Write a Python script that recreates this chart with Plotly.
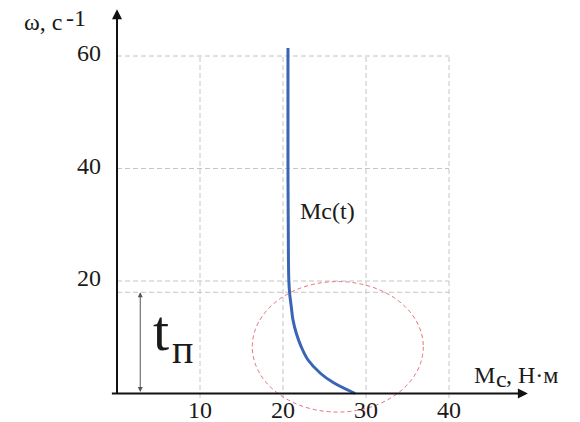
import plotly.graph_objects as go

# Curve Mc(t): omega vs Mc
mc_vals = [20.6, 20.6, 20.65, 20.7, 20.8, 21.0, 21.2, 21.6, 22.2, 23.0, 24.5, 26.1, 28.7]
omega_vals = [61.4, 40.0, 25.0, 20.2, 17.8, 15.4, 13.1, 10.7, 8.3, 6.0, 3.6, 1.9, 0.0]

x_ticks = [10, 20, 30, 40]
y_ticks = [20, 40, 60]
y_extra_grid = 18.0
t_arrow_x = 2.8

ellipse_cx, ellipse_cy = 26.6, 8.3
ellipse_rx, ellipse_ry = 10.3, 11.6

FONT = "Liberation Serif, 'Times New Roman', Times, 'DejaVu Serif', serif"
TXT = "#1a1a1a"
grid_col = "#C4C4C4"

W, H = 580, 422
x0_px, px_per_unit_x = 117.0, 8.3
y0_px, px_per_unit_y = 393.5, 5.625

fig = go.Figure()
fig.add_trace(go.Scatter(x=mc_vals, y=omega_vals, mode="lines",
                         line=dict(color="#3A64B4", width=3, shape="spline", smoothing=1.0),
                         showlegend=False, hoverinfo="skip"))

shapes = []
for xv in x_ticks:
    shapes.append(dict(type="line", x0=xv, x1=xv, y0=-0.8, y1=60, xref="x", yref="y",
                       line=dict(color=grid_col, width=1, dash="5px,3px"), layer="below"))
for yv in y_ticks + [y_extra_grid]:
    shapes.append(dict(type="line", x0=0, x1=40, y0=yv, y1=yv, xref="x", yref="y",
                       line=dict(color=grid_col, width=1, dash="5px,3px"), layer="below"))
shapes.append(dict(type="circle", xref="x", yref="y",
                   x0=ellipse_cx - ellipse_rx, x1=ellipse_cx + ellipse_rx,
                   y0=ellipse_cy - ellipse_ry, y1=ellipse_cy + ellipse_ry,
                   line=dict(color="#E8707C", width=1, dash="4px,3px")))

annotations = []
annotations.append(dict(x=49.5, y=0, ax=-0.8, ay=0, xref="x", yref="y", axref="x", ayref="y",
                        showarrow=True, arrowhead=2, arrowsize=1, arrowwidth=2, arrowcolor="#111111", text=""))
annotations.append(dict(x=0, y=68.3, ax=0, ay=-0.3, xref="x", yref="y", axref="x", ayref="y",
                        showarrow=True, arrowhead=2, arrowsize=1, arrowwidth=2, arrowcolor="#111111", text=""))
annotations.append(dict(x=t_arrow_x, y=y_extra_grid, ax=t_arrow_x, ay=0, xref="x", yref="y", axref="x", ayref="y",
                        showarrow=True, arrowhead=2, startarrowhead=2, arrowside="end+start",
                        arrowsize=1, startarrowsize=1, arrowwidth=1, arrowcolor="#555555", text=""))


def txt(text, px, py, size, xanchor="center", yanchor="middle"):
    # px, py in page pixels from top-left
    annotations.append(dict(x=px / W, y=1 - py / H, xref="paper", yref="paper", text=text,
                            showarrow=False, xanchor=xanchor, yanchor=yanchor,
                            font=dict(family=FONT, size=size, color=TXT)))


for xv in x_ticks:
    txt(str(xv), x0_px + xv * px_per_unit_x, 410, 24)
for yv in y_ticks:
    txt(str(yv), 103, y0_px - yv * px_per_unit_y - 3, 24, xanchor="right")

# axis titles
txt("ω, c", 22, 22, 24, xanchor="left")
txt("-1", 64, 18, 24, xanchor="left")
txt("M", 472, 375, 24, xanchor="left")
txt("c", 494, 379, 24, xanchor="left")
txt(", Н·м", 504, 375, 24, xanchor="left")
txt("Mc(t)", 298, 211, 24, xanchor="left")
txt("t", 151, 330, 58, xanchor="left")
txt("п", 170, 349, 40, xanchor="left")

xr = [(0 - x0_px) / px_per_unit_x, (W - x0_px) / px_per_unit_x]
yr = [-(H - y0_px) / px_per_unit_y, y0_px / px_per_unit_y]

fig.update_layout(
    width=W, height=H, margin=dict(l=0, r=0, t=0, b=0),
    paper_bgcolor="white", plot_bgcolor="white",
    font=dict(family=FONT),
    xaxis=dict(range=xr, visible=False, fixedrange=True),
    yaxis=dict(range=yr, visible=False, fixedrange=True),
    shapes=shapes, annotations=annotations, showlegend=False,
)
fig.write_html("out.html", config={"displayModeBar": False},
               post_script="document.body.style.margin='0';document.body.style.overflow='hidden';")
